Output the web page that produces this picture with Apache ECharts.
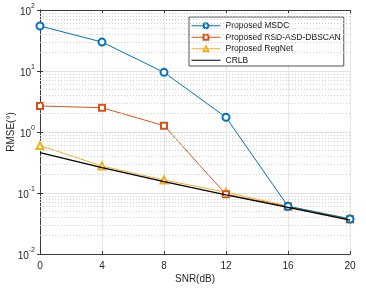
<!DOCTYPE html>
<html><head><meta charset="utf-8">
<script src="https://cdn.jsdelivr.net/npm/echarts@6/dist/echarts.min.js"></script>
<style>html,body{margin:0;padding:0;background:#fff}#c{width:366px;height:291px}</style>
</head><body><div id="c"></div>
<script>
var snr = [0, 4, 8, 12, 16, 20];
var xTicks = [0, 4, 8, 12, 16, 20];
var msdc = [54.7, 29.8, 9.5, 1.74, 0.0605, 0.0375];
var rsd = [2.67, 2.5, 1.27, 0.095, 0.06, 0.037];
var regnet = [0.6, 0.277, 0.163, 0.103, 0.061, 0.038];
var crlb = [0.458, 0.26, 0.153, 0.093, 0.058, 0.036];
var yDecades = [0.01, 0.1, 1, 10, 100];

var FONT = 'Liberation Sans';
function pairs(v){ return snr.map(function(x,i){ return [x, v[i]]; }); }
var minorLines = [];
for (var d = 0; d < yDecades.length - 1; d++) {
  for (var k = 2; k <= 9; k++) minorLines.push({yAxis: yDecades[d] * k});
}
var chart = echarts.init(document.getElementById('c'), null, {renderer: 'canvas'});
var axisCol = '#3a3a3a';
chart.setOption({
  animation: false,
  textStyle: {fontFamily: FONT},
  grid: {left: 40, right: 16, top: 10, bottom: 37, containLabel: false, outerBoundsMode: 'none'},
  legend: {
    data: [
      {name: 'Proposed MSDC'},
      {name: 'Proposed RSD-ASD-DBSCAN'},
      {name: 'Proposed RegNet'},
      {name: 'CRLB', itemStyle: {opacity: 0}}
    ],
    orient: 'vertical', left: 189, top: 17,
    backgroundColor: '#fff', borderColor: '#2a2a2a', borderWidth: 0.8,
    padding: [3, 3, 0, 2], itemGap: 0, itemWidth: 29, itemHeight: 6,
    itemStyle: {borderWidth: 1},
    lineStyle: {width: 1},
    textStyle: {fontFamily: FONT, fontSize: 8.5, color: '#111', lineHeight: 11.5}
  },
  xAxis: [{
    type: 'value', min: 0, max: 20, interval: 4,
    name: 'SNR(dB)', nameLocation: 'middle', nameGap: 20, nameMoveOverlap: false,
    nameTextStyle: {fontFamily: FONT, fontSize: 10, color: '#262626'},
    axisLine: {lineStyle: {color: axisCol, width: 1}},
    axisTick: {inside: true, length: 3, lineStyle: {color: axisCol}},
    axisLabel: {fontFamily: FONT, fontSize: 10, color: '#262626', margin: 7,
      formatter: function(v){ return xTicks.indexOf(v) >= 0 ? String(v) : ''; }},
    splitLine: {show: true, lineStyle: {color: '#e6e6e6', width: 1}}
  }, {
    type: 'value', min: 0, max: 20, interval: 4, position: 'top',
    axisLine: {show: true, lineStyle: {color: axisCol, width: 1}},
    axisTick: {inside: true, length: 3, lineStyle: {color: axisCol}},
    axisLabel: {show: false}, splitLine: {show: false}
  }],
  yAxis: [{
    type: 'log', logBase: 10, min: 0.01, max: 100, interval: 1,
    name: 'RMSE(°)', nameLocation: 'middle', nameGap: 24, nameMoveOverlap: false,
    nameTextStyle: {fontFamily: FONT, fontSize: 10, color: '#262626'},
    axisLine: {show: true, lineStyle: {color: axisCol, width: 1}},
    axisTick: {inside: true, length: 3, lineStyle: {color: axisCol}},
    axisLabel: {
      margin: 5,
      formatter: function(v){ var e = Math.round(Math.log10(v)); return '{b|10}{s|' + e + '}'; },
      rich: {
        b: {fontFamily: FONT, fontSize: 10, color: '#262626', verticalAlign: 'bottom', lineHeight: 14},
        s: {fontFamily: FONT, fontSize: 7, color: '#262626', verticalAlign: 'top', lineHeight: 14, padding: [0,0,8,0]}
      }
    },
    splitLine: {show: true, lineStyle: {color: '#e2e2e2', width: 1}}
  }, {
    type: 'log', logBase: 10, min: 0.01, max: 100, interval: 1, position: 'right',
    axisLine: {show: true, lineStyle: {color: axisCol, width: 1}},
    axisTick: {inside: true, length: 3, lineStyle: {color: axisCol}},
    axisLabel: {show: false}, splitLine: {show: false}
  }],
  series: [
    {name: 'minor', type: 'line', data: [], silent: true, symbol: 'none', z: 1,
     markLine: {silent: true, symbol: 'none', label: {show: false},
       lineStyle: {type: [1, 2], color: '#d0d0d0', width: 1}, animation: false,
       data: minorLines}},
    {name: 'Proposed MSDC', type: 'line', data: pairs(msdc), symbol: 'emptyCircle', symbolSize: 7,
     color: '#0072BD', lineStyle: {width: 1}, itemStyle: {borderWidth: 1}, z: 5},
    {name: 'Proposed RSD-ASD-DBSCAN', type: 'line', data: pairs(rsd), symbol: 'emptyRect', symbolSize: 6,
     color: '#D95319', lineStyle: {width: 1}, itemStyle: {borderWidth: 1}, z: 4},
    {name: 'Proposed RegNet', type: 'line', data: pairs(regnet), symbol: 'emptyTriangle', symbolSize: 7,
     color: '#EDB120', lineStyle: {width: 1}, itemStyle: {borderWidth: 1}, z: 3},
    {name: 'CRLB', type: 'line', data: pairs(crlb), symbol: 'none',
     color: '#000000', lineStyle: {width: 1.3}, z: 6}
  ]
});
</script></body></html>
